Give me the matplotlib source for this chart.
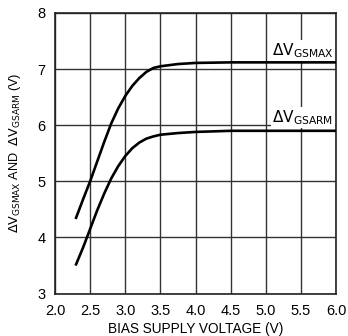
import matplotlib
matplotlib.use('Agg')
import matplotlib.pyplot as plt

plt.rcParams['font.family'] = ['Liberation Sans Narrow', 'Liberation Sans', 'DejaVu Sans']
plt.rcParams['mathtext.fontset'] = 'custom'
plt.rcParams['mathtext.rm'] = 'Liberation Sans Narrow'
plt.rcParams['mathtext.it'] = 'Liberation Sans Narrow'

# bias supply voltage (V)
vbias = [2.3, 2.4, 2.5, 2.6, 2.7, 2.8, 2.9, 3.0, 3.1, 3.2, 3.3, 3.4, 3.5,
         3.75, 4.0, 4.5, 5.0, 6.0]
# delta VGS max and arm (V)
dv_max = [4.35, 4.68, 5.0, 5.35, 5.7, 6.03, 6.3, 6.52, 6.7, 6.84, 6.95, 7.02, 7.05,
          7.09, 7.11, 7.12, 7.12, 7.12]
dv_arm = [3.52, 3.82, 4.15, 4.48, 4.78, 5.05, 5.27, 5.45, 5.59, 5.69, 5.76, 5.8, 5.83,
          5.86, 5.88, 5.9, 5.9, 5.9]

xticks = [2.0, 2.5, 3.0, 3.5, 4.0, 4.5, 5.0, 5.5, 6.0]
yticks = [3, 4, 5, 6, 7, 8]

fig = plt.figure(figsize=(3.48, 3.36), dpi=100)
ax = fig.add_axes([55/348, 1 - 293.5/336, 281/348, 280.5/336])

ax.plot(vbias, dv_max, color='black', linewidth=1.9, zorder=3)
ax.plot(vbias, dv_arm, color='black', linewidth=1.9, zorder=3)

ax.set_xlim(2.0, 6.0)
ax.set_ylim(3, 8)
ax.set_xticks(xticks)
ax.set_xticklabels([f'{t:.1f}' for t in xticks])
ax.set_yticks(yticks)
ax.grid(True, color='#333333', linewidth=1.0)
ax.tick_params(length=0, labelsize=10.5)
ax.tick_params(axis='x', pad=7.5)
ax.tick_params(axis='y', pad=7)
for s in ax.spines.values():
    s.set_linewidth(1.2)
    s.set_color('#222222')

lbl = dict(ha='right', va='center', fontsize=11,
           bbox=dict(facecolor='white', edgecolor='none', pad=1.0), zorder=4)
ax.text(5.96, 7.33, r'$\Delta\mathrm{V_{GSMAX}}$', **lbl)
ax.text(5.96, 6.14, r'$\Delta\mathrm{V_{GSARM}}$', **lbl)

ax.set_xlabel('BIAS SUPPLY VOLTAGE (V)', fontsize=9.8)
ax.set_ylabel(r'$\Delta\mathrm{V_{GSMAX}}$ AND  $\Delta\mathrm{V_{GSARM}}$ (V)', fontsize=9.2)
ax.xaxis.set_label_coords(0.5, -0.102)
ax.yaxis.set_label_coords(-0.115, 0.5)

fig.savefig('out.png', dpi=100)
